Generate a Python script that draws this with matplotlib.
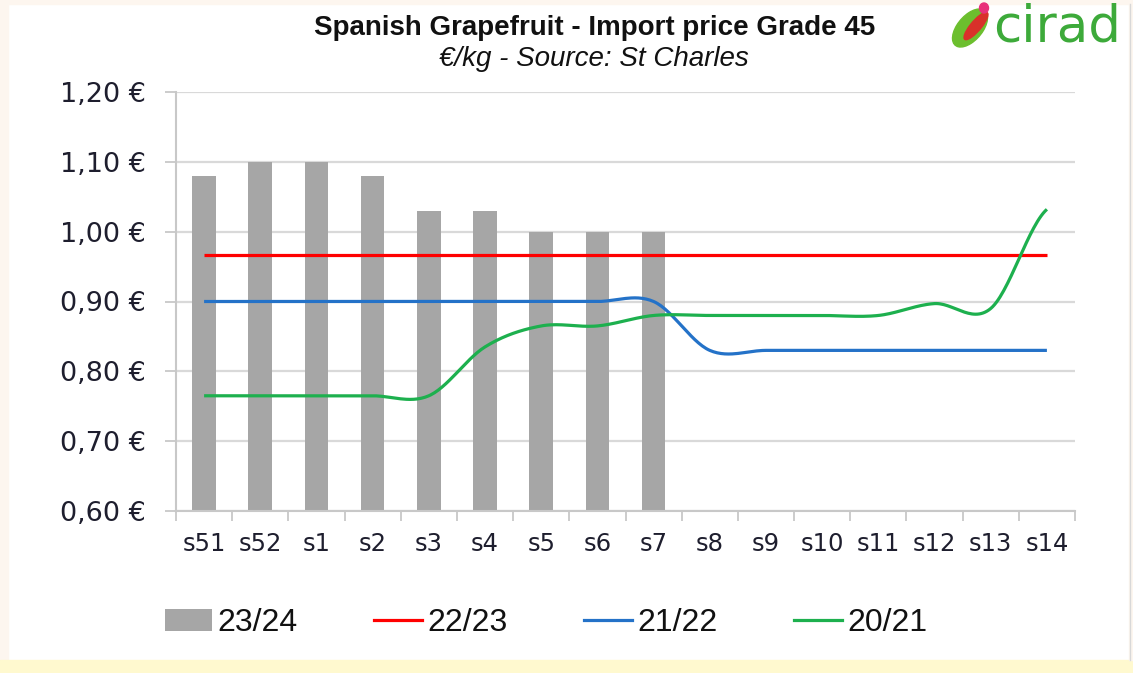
import numpy as np
import matplotlib
matplotlib.use("Agg")
import matplotlib.pyplot as plt
from matplotlib.patches import Rectangle, Ellipse, Patch
from matplotlib.lines import Line2D

# ---------------- data ----------------
weeks = ["s51", "s52", "s1", "s2", "s3", "s4", "s5", "s6", "s7",
         "s8", "s9", "s10", "s11", "s12", "s13", "s14"]
bars_2324 = [1.08, 1.10, 1.10, 1.08, 1.03, 1.03, 1.00, 1.00, 1.00]
line_2223 = [0.967] * 16
line_2122 = [0.90, 0.90, 0.90, 0.90, 0.90, 0.90, 0.90, 0.90, 0.90,
             0.83, 0.83, 0.83, 0.83, 0.83, 0.83, 0.83]
line_2021 = [0.765, 0.765, 0.765, 0.765, 0.765, 0.835, 0.865, 0.865, 0.88,
             0.88, 0.88, 0.88, 0.88, 0.897, 0.89, 1.032]
yticks = [0.60, 0.70, 0.80, 0.90, 1.00, 1.10, 1.20]
ytick_labels = ["0,60 €", "0,70 €", "0,80 €", "0,90 €", "1,00 €", "1,10 €", "1,20 €"]
series_names = ["23/24", "22/23", "21/22", "20/21"]

C_BAR = "#A6A6A6"
C_RED = "#FF0000"
C_BLUE = "#2472C8"
C_GREEN = "#1DB04E"
TXT = "#1E1E2E"

def smooth(y, n=30):
    """Catmull-Rom smoothing similar to spreadsheet 'smoothed line'."""
    y = np.asarray(y, float)
    x = np.arange(len(y), dtype=float)
    xs, ys = [], []
    for i in range(len(y) - 1):
        p0 = y[i - 1] if i > 0 else y[i]
        p1, p2 = y[i], y[i + 1]
        p3 = y[i + 2] if i + 2 < len(y) else y[i + 1]
        m1 = (p2 - p0) / 2.0
        m2 = (p3 - p1) / 2.0
        t = np.linspace(0, 1, n, endpoint=False)
        h00 = 2 * t**3 - 3 * t**2 + 1
        h10 = t**3 - 2 * t**2 + t
        h01 = -2 * t**3 + 3 * t**2
        h11 = t**3 - t**2
        ys.append(h00 * p1 + h10 * m1 + h01 * p2 + h11 * m2)
        xs.append(x[i] + t)
    xs.append([x[-1]]); ys.append([y[-1]])
    return np.concatenate(xs), np.concatenate(ys)

W, H = 1133, 673
fig = plt.figure(figsize=(W / 100, H / 100), dpi=100)
fig.patch.set_facecolor("white")

# background frame strips
fig.add_artist(Rectangle((0, 0), 8 / W, 1, transform=fig.transFigure, color="#FDF6EF", zorder=0))
fig.add_artist(Rectangle((0, 1 - 4 / H), 1, 4 / H, transform=fig.transFigure, color="#FDF6EF", zorder=0))
fig.add_artist(Rectangle((0, 0), 1, 13 / H, transform=fig.transFigure, color="#FFF9CF", zorder=0))
fig.add_artist(Rectangle((1129 / W, 13 / H), 4 / W, 1, transform=fig.transFigure, color="#FDF6EF", zorder=0))
fig.add_artist(Line2D([1129.5 / W] * 2, [13 / H, 1 - 4 / H], transform=fig.transFigure, color="#D8D8D8", lw=1))

ax = fig.add_axes([176 / W, 1 - 511 / H, (1075 - 176) / W, (511 - 92) / H])
ax.set_facecolor("white")
x = np.arange(len(weeks))

ax.bar(x[:len(bars_2324)], bars_2324, width=0.42, color=C_BAR, zorder=2)
ax.plot(*smooth(line_2223), color=C_RED, lw=2.3, zorder=3, solid_capstyle="butt")
ax.plot(*smooth(line_2122), color=C_BLUE, lw=2.3, zorder=3, solid_capstyle="butt")
ax.plot(*smooth(line_2021), color=C_GREEN, lw=2.3, zorder=3, solid_capstyle="butt")

ax.set_xlim(-0.5, len(weeks) - 0.5)
ax.set_ylim(0.60, 1.20)
ax.set_yticks(yticks)
ax.set_yticklabels(ytick_labels, fontsize=19.5, color=TXT, family="DejaVu Sans")
ax.yaxis.grid(True, color="#D9D9D9", lw=1.6, zorder=0)
ax.set_axisbelow(True)

ax.set_xticks(x)
ax.set_xticklabels(weeks, fontsize=17.5, color=TXT, family="DejaVu Sans")
ax.set_xticks(np.arange(-0.5, len(weeks)), minor=True)
ax.tick_params(axis="x", which="major", length=0, pad=15)
ax.tick_params(axis="x", which="minor", length=7, width=1.3, color="#C8C8C8", direction="out")
ax.tick_params(axis="y", which="major", length=8, width=1.3, color="#C8C8C8", pad=14)

for s in ["top", "right"]:
    ax.spines[s].set_visible(False)
for s in ["left", "bottom"]:
    ax.spines[s].set_color("#C8C8C8")
    ax.spines[s].set_linewidth(1.5)

# titles
tfam = ["Liberation Sans Narrow", "Liberation Sans", "DejaVu Sans"]
fig.text(595 / W, 1 - 28 / H, "Spanish Grapefruit - Import price Grade 45", ha="center", va="center",
         fontsize=20, fontweight="bold", family=tfam, color="#111111")
fig.text(594 / W, 1 - 59 / H, "€/kg - Source: St Charles", ha="center", va="center",
         fontsize=20, style="italic", family=tfam, color="#111111")

# logo
fig.text(993 / W, 1 - 28 / H, "cirad", ha="left", va="center", fontsize=37,
         family="DejaVu Sans", color="#3DAA3A")
fig.add_artist(Ellipse((970 / W, 1 - 28 / H), 28 / W, 40 / H, angle=-20, transform=fig.transFigure,
                       color="#6CBF2E", zorder=5))
fig.add_artist(Ellipse((976 / W, 1 - 26 / H), 12 / W, 30 / H, angle=-25, transform=fig.transFigure,
                       color="#D9302A", zorder=6))
fig.add_artist(Ellipse((984 / W, 1 - 8 / H), 9 / W, 10 / H, transform=fig.transFigure,
                       color="#E8307A", zorder=6))

# legend
handles = [Patch(facecolor=C_BAR, edgecolor="none"),
           Line2D([], [], color=C_RED, lw=2.3),
           Line2D([], [], color=C_BLUE, lw=2.3),
           Line2D([], [], color=C_GREEN, lw=2.3)]
leg = fig.legend(handles, series_names, loc="center", bbox_to_anchor=(546 / W, 1 - 623 / H),
                 ncol=4, frameon=False, handlelength=1.5, handletextpad=0.16, columnspacing=2.4,
                 prop={"family": tfam, "size": 23})
for t in leg.get_texts():
    t.set_color("#111111")

fig.savefig("out.png", dpi=100, facecolor=fig.get_facecolor())
